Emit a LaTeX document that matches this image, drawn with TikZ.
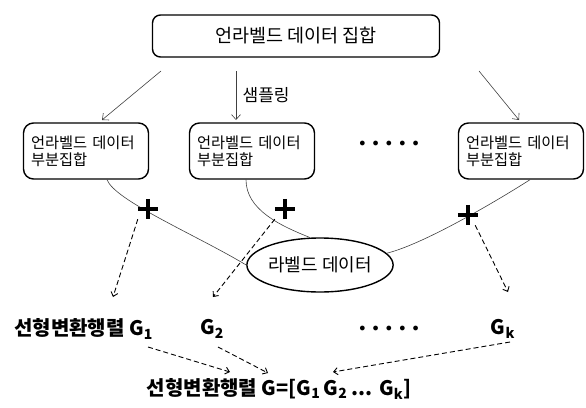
\documentclass[tikz,border=0pt]{standalone}
\usepackage{fontspec}
\setmainfont{Noto Sans CJK KR}
\newfontfamily\dotfont{DejaVu Sans}
\usetikzlibrary{arrows.meta,shapes.geometric}
\tikzset{
every gmat/.style={font=\bfseries\fontsize{20}{23}\selectfont},
}

\begin{document}
\begin{tikzpicture}[x=1pt, y=-1pt,
						setbox/.style={draw, line width=1.4pt, rounded corners=8pt, minimum width=287pt, minimum height=42pt, font=\fontsize{18.5}{21}\selectfont},
						subbox/.style={draw, line width=1.4pt, rounded corners=10pt, minimum width=125pt, minimum height=56pt, text width=110pt, align=left, font=\fontsize{15.3}{17}\selectfont},
						labelled/.style={draw, ellipse, line width=1.4pt, minimum width=143pt, minimum height=54pt, inner sep=0pt, font=\fontsize{18}{20}\selectfont},
						plussign/.style={minimum size=20pt, inner sep=0pt},
						plusbar/.style={line width=3.2pt},
						gmat/.style={every gmat, inner sep=1pt},
						samp/.style={draw=black!75, line width=0.6pt, -{Straight Barb[length=5pt, width=9pt]}},
						link/.style={draw=black!75, line width=0.6pt},
						dsh/.style={dash pattern=on 5pt off 3pt, line width=0.9pt, -{Straight Barb[length=4pt, width=7pt]}},
						dotrow/.style={font=\dotfont\bfseries\fontsize{13.5}{15}\selectfont},
					]
					\useasboundingbox (0,0) rectangle (586,407);
					\node[setbox] (all) at (296,36) {언라벨드 데이터 집합};
					\node[subbox] (sub1) at (86,151) {언라벨드 데이터\\부분집합};
					\node[subbox] (sub2) at (252,151) {언라벨드 데이터\\부분집합};
					\node[subbox] (subk) at (521,151) {언라벨드 데이터\\부분집합};
					\node[dotrow] (sdots) at (389,145) {• • • • •};
					\coordinate (a1) at (161,71); \coordinate (b1) at (102,120);
					\coordinate (a2) at (236,71); \coordinate (b2) at (236,120);
					\coordinate (ak) at (479,71); \coordinate (bk) at (519,120);
					\draw[samp] (a1) -- (b1);
					\draw[samp] (a2) -- node[right=3pt, font=\fontsize{17}{19}\selectfont] {샘플링} (b2);
					\draw[samp] (ak) -- (bk);
					\node[labelled] (lab) at (320,265) {라벨드 데이터};
					\draw[link] ([xshift=21pt]sub1.south) .. controls +(8,21) and +(-50,-30) .. (lab.west);
					\draw[link] ([xshift=-6pt]sub2.south) .. controls +(0,30) and +(-30,-12) .. (lab.110);
					\draw[link] ([xshift=9pt]subk.south) .. controls +(-25,16) and +(40,-10) .. (lab.10);
					\node[plussign] (p1) at (148,209) {};
					\node[plussign] (p2) at (285,209) {};
					\node[plussign] (pk) at (468,215) {};
					\foreach \p in {p1,p2,pk}
						\draw[plusbar] (\p.north) -- (\p.south) (\p.west) -- (\p.east);
					\node[gmat, anchor=west] (g1) at (13,329) {선형변환행렬 G\textsubscript{1}};
					\node[gmat] (g2) at (212,329) {G\textsubscript{2}};
					\node[dotrow] (rdots) at (389,330) {• • • • •};
					\node[gmat] (gk) at (503,329) {G\textsubscript{k}};
					\node[gmat] (gall) at (279,389) {선형변환행렬 G=[G\textsubscript{1}\,G\textsubscript{2} ... G\textsubscript{k}]};
					\coordinate (e1) at (113,297); \coordinate (e2) at (213,297); \coordinate (ek) at (508,292);
					\draw[dsh] (p1.south west) -- (e1);
					\draw[dsh] (p2.south west) -- (e2);
					\draw[dsh] ([xshift=-3pt]pk.south east) -- (ek);
					\coordinate (f1) at (148,347); \coordinate (h1) at (230,372);
					\coordinate (f2) at (218,347); \coordinate (h2) at (268,373);
					\coordinate (fk) at (510,342); \coordinate (hk) at (333,372);
					\draw[dsh] (f1) -- (h1);
					\draw[dsh] (f2) -- (h2);
					\draw[dsh] (fk) -- (hk);
	\end{tikzpicture}
\end{document}
